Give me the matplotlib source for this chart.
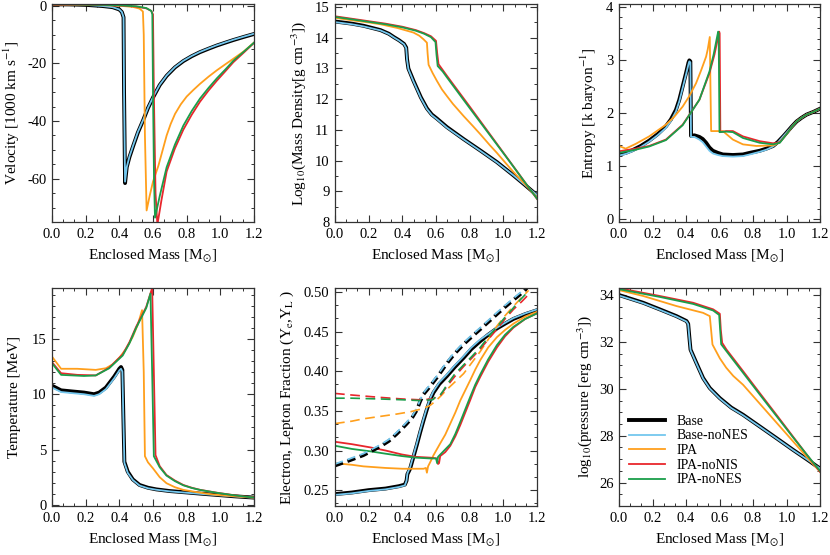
import matplotlib
matplotlib.use("Agg")
import matplotlib.pyplot as plt
from matplotlib.ticker import MultipleLocator, FormatStrFormatter

plt.rcParams['font.family'] = 'serif'
plt.rcParams['font.serif'] = ['Liberation Serif', 'DejaVu Serif']
plt.rcParams['mathtext.fontset'] = 'stix'
plt.rcParams['lines.scale_dashes'] = False

# ---------------- data ----------------
labels = ['Base', 'Base-noNES', 'IPA', 'IPA-noNIS', 'IPA-noNES']
colors = ['black', '#74c7ee', '#ff9f1c', '#e8262c', '#1a9e4a']

# velocity [1000 km/s]
m_vel_base = [0.0, 0.1, 0.2, 0.3, 0.36, 0.40, 0.415, 0.425, 0.428, 0.434, 0.444, 0.46, 0.483, 0.51, 0.543, 0.57,
              0.602, 0.64, 0.681, 0.73, 0.78, 0.83, 0.879, 0.93, 0.979, 1.03, 1.077, 1.14, 1.2]
vel_base = [0.5, 0.45, 0.3, -0.1, -0.5, -1.3, -2.2, -4.0, -30, -61.5, -56, -52.5, -48.5, -44, -39.5, -35.5,
            -31.6, -27.5, -24.3, -21.4, -19.2, -17.5, -16.1, -14.9, -13.8, -12.8, -11.9, -10.8, -9.8]
vel_nones = [0.5, 0.45, 0.3, -0.1, -0.5, -1.3, -2.2, -4.0, -30, -61.0, -56, -52.3, -48.3, -43.8, -39.4, -35.4,
             -31.5, -27.4, -24.2, -21.3, -19.1, -17.4, -16.0, -14.8, -13.7, -12.7, -11.8, -10.7, -9.7]
m_vel_ipa = [0.0, 0.1, 0.2, 0.3, 0.4, 0.48, 0.52, 0.54, 0.545, 0.552, 0.562, 0.58, 0.60, 0.632, 0.66, 0.681, 0.705,
             0.731, 0.765, 0.80, 0.84, 0.879, 0.93, 0.979, 1.03, 1.077, 1.14, 1.2]
vel_ipa = [0.4, 0.35, 0.3, 0.2, 0.0, -0.4, -1.0, -2.0, -10, -45, -71, -66, -61, -55.5, -49.5, -45, -41,
           -37.5, -34.2, -31.5, -29.2, -27.1, -24.6, -22.4, -20.3, -18.4, -15.8, -12.8]
m_vel_nonis = [0.0, 0.1, 0.2, 0.3, 0.4, 0.5, 0.56, 0.59, 0.60, 0.605, 0.615, 0.626, 0.65, 0.681, 0.73, 0.78, 0.83,
               0.879, 0.93, 0.979, 1.03, 1.077, 1.14, 1.2]
vel_nonis = [0.4, 0.35, 0.3, 0.25, 0.1, -0.3, -0.9, -1.8, -3.0, -30, -65, -76, -67.5, -57.5, -49.5, -43, -37.8,
             -33.3, -29.4, -26.0, -22.7, -19.6, -16.2, -12.9]
m_vel_ipanones = [0.0, 0.1, 0.2, 0.3, 0.4, 0.5, 0.56, 0.59, 0.596, 0.60, 0.606, 0.612, 0.64, 0.681, 0.73, 0.78,
                  0.83, 0.879, 0.93, 0.979, 1.03, 1.077, 1.14, 1.2]
vel_ipanones = [0.5, 0.45, 0.35, 0.3, 0.15, -0.2, -0.8, -1.8, -3.0, -30, -60, -73.5, -66, -56, -48.2, -41.6,
                -36.5, -32.2, -28.5, -25.2, -22.1, -19.1, -15.9, -12.8]

# log10 density [g/cm3]
m_rho_base = [0.0, 0.1, 0.17, 0.27, 0.32, 0.35, 0.38, 0.41, 0.423, 0.428, 0.436, 0.466, 0.51, 0.546, 0.575,
              0.605, 0.665, 0.764, 0.863, 0.962, 1.06, 1.13, 1.2]
rho_base = [14.53, 14.46, 14.39, 14.25, 14.13, 14.02, 13.92, 13.8, 13.68, 13.3, 13.0, 12.6, 12.06, 11.7, 11.5,
            11.37, 11.09, 10.7, 10.33, 9.95, 9.52, 9.2, 8.87]
rho_nones = [14.51, 14.44, 14.37, 14.24, 14.12, 14.01, 13.91, 13.79, 13.66, 13.28, 12.98, 12.58, 12.04, 11.68,
             11.48, 11.35, 11.07, 10.69, 10.32, 9.94, 9.52, 9.2, 8.88]
m_rho_ipa = [0.0, 0.1, 0.2, 0.27, 0.37, 0.466, 0.5, 0.526, 0.546, 0.55, 0.556, 0.58, 0.605, 0.635, 0.665, 0.7,
             0.764, 0.82, 0.863, 0.92, 0.962, 1.02, 1.06, 1.13, 1.2]
rho_ipa = [14.65, 14.57, 14.5, 14.44, 14.32, 14.17, 14.07, 13.95, 13.84, 13.5, 13.12, 12.85, 12.6, 12.32, 12.1,
           11.85, 11.45, 11.12, 10.86, 10.5, 10.25, 9.88, 9.63, 9.22, 8.8]
m_rho_nonis = [0.0, 0.1, 0.2, 0.3, 0.4, 0.48, 0.53, 0.57, 0.6, 0.607, 0.615, 0.64, 0.665, 0.7, 0.75, 0.8, 0.86,
               0.92, 0.98, 1.04, 1.1, 1.15, 1.2]
rho_nonis = [14.7, 14.62, 14.54, 14.46, 14.36, 14.25, 14.15, 14.05, 13.9, 13.5, 13.14, 12.95, 12.76, 12.5, 12.13,
             11.76, 11.31, 10.86, 10.41, 9.96, 9.51, 9.13, 8.75]
m_rho_ipanones = [0.0, 0.1, 0.2, 0.3, 0.4, 0.48, 0.53, 0.57, 0.597, 0.603, 0.61, 0.64, 0.665, 0.7, 0.75, 0.8,
                  0.86, 0.92, 0.98, 1.04, 1.1, 1.15, 1.2]
rho_ipanones = [14.68, 14.6, 14.52, 14.44, 14.34, 14.23, 14.13, 14.02, 13.86, 13.45, 13.08, 12.9, 12.71, 12.45,
                12.08, 11.71, 11.27, 10.83, 10.39, 9.95, 9.5, 9.13, 8.76]

# entropy [k/baryon]
m_s_base = [0.0, 0.04, 0.08, 0.13, 0.18, 0.23, 0.28, 0.31, 0.34, 0.36, 0.38, 0.40, 0.415, 0.42, 0.426, 0.43,
            0.45, 0.48, 0.5, 0.52, 0.54, 0.56, 0.59, 0.62, 0.68, 0.74, 0.78, 0.84, 0.88, 0.92, 0.95, 0.98, 1.0,
            1.03, 1.06, 1.09, 1.12, 1.16, 1.2]
s_base = [1.22, 1.25, 1.3, 1.38, 1.48, 1.6, 1.75, 1.88, 2.06, 2.25, 2.5, 2.75, 2.95, 2.99, 2.97, 1.57,
          1.58, 1.55, 1.51, 1.44, 1.35, 1.29, 1.25, 1.22, 1.21, 1.22, 1.25, 1.29, 1.33, 1.38, 1.46, 1.56, 1.63,
          1.74, 1.84, 1.91, 1.97, 2.02, 2.08]
s_nones = [1.2, 1.23, 1.28, 1.36, 1.46, 1.58, 1.72, 1.85, 2.03, 2.22, 2.47, 2.72, 2.92, 2.97, 2.95, 1.55,
           1.55, 1.5, 1.45, 1.37, 1.29, 1.24, 1.21, 1.19, 1.18, 1.19, 1.22, 1.27, 1.31, 1.37, 1.45, 1.56, 1.63,
           1.74, 1.84, 1.91, 1.97, 2.02, 2.08]
m_s_ipa = [0.0, 0.04, 0.1, 0.18, 0.28, 0.33, 0.38, 0.42, 0.46, 0.49, 0.52, 0.53, 0.542, 0.546, 0.55, 0.62, 0.65,
           0.68, 0.74, 0.82, 0.92, 0.96, 1.0, 1.03, 1.06, 1.09, 1.12, 1.16, 1.2]
s_ipa = [1.38, 1.33, 1.42, 1.56, 1.78, 1.93, 2.12, 2.32, 2.56, 2.8, 3.06, 3.2, 3.43, 2.5, 1.66, 1.66, 1.58,
         1.5, 1.41, 1.38, 1.39, 1.45, 1.6, 1.73, 1.84, 1.91, 1.97, 2.02, 2.08]
m_s_nonis = [0.0, 0.1, 0.18, 0.28, 0.38, 0.48, 0.54, 0.57, 0.59, 0.598, 0.601, 0.605, 0.64, 0.68, 0.74, 0.84,
             0.92, 0.96, 1.0, 1.03, 1.06, 1.09, 1.12, 1.16, 1.2]
s_nonis = [1.28, 1.33, 1.38, 1.5, 1.78, 2.25, 2.75, 3.1, 3.4, 3.53, 3.5, 1.64, 1.66, 1.66, 1.56, 1.47,
           1.43, 1.45, 1.6, 1.73, 1.84, 1.91, 1.97, 2.02, 2.08]
m_s_ipanones = [0.0, 0.1, 0.18, 0.28, 0.38, 0.48, 0.54, 0.565, 0.585, 0.592, 0.595, 0.6, 0.64, 0.68, 0.74, 0.84,
                0.92, 0.96, 1.0, 1.03, 1.06, 1.09, 1.12, 1.16, 1.2]
s_ipanones = [1.25, 1.31, 1.37, 1.49, 1.77, 2.25, 2.78, 3.1, 3.42, 3.53, 3.5, 1.64, 1.65, 1.64, 1.53, 1.44,
              1.41, 1.44, 1.6, 1.73, 1.84, 1.91, 1.97, 2.02, 2.08]

# temperature [MeV]
m_t_base = [0.0, 0.054, 0.12, 0.19, 0.25, 0.28, 0.32, 0.37, 0.4, 0.41, 0.418, 0.424, 0.43, 0.45, 0.48, 0.52,
            0.57, 0.62, 0.7, 0.78, 0.88, 0.98, 1.08, 1.2]
t_base = [10.77, 10.35, 10.25, 10.15, 10.0, 10.15, 10.6, 11.6, 12.3, 12.46, 12.2, 8.0, 3.9, 3.0, 2.3, 1.8,
          1.55, 1.4, 1.25, 1.15, 1.02, 0.9, 0.78, 0.66]
t_nones = [10.6, 10.2, 10.1, 10.0, 9.85, 10.0, 10.45, 11.45, 12.15, 12.3, 12.05, 7.8, 3.8, 2.9, 2.25, 1.75,
           1.5, 1.37, 1.22, 1.12, 1.0, 0.88, 0.77, 0.65]
m_t_ipa = [0.0, 0.054, 0.15, 0.26, 0.32, 0.36, 0.4, 0.44, 0.48, 0.51, 0.535, 0.545, 0.552, 0.57, 0.6, 0.64,
           0.68, 0.73, 0.78, 0.86, 0.94, 1.0, 1.1, 1.2]
t_ipa = [13.4, 12.3, 12.3, 12.2, 12.35, 12.7, 13.3, 14.1, 15.2, 16.3, 17.6, 12.0, 4.4, 3.85, 3.3, 2.5,
         1.96, 1.6, 1.36, 1.15, 0.97, 0.88, 0.76, 0.66]
m_t_nonis = [0.0, 0.054, 0.15, 0.26, 0.34, 0.42, 0.46, 0.5, 0.56, 0.595, 0.605, 0.615, 0.64, 0.68, 0.73, 0.78,
             0.83, 0.88, 0.98, 1.08, 1.2]
t_nonis = [12.9, 11.9, 11.75, 11.7, 12.4, 13.6, 14.7, 16.1, 17.9, 19.6, 12.0, 4.5, 3.5, 2.7, 2.2, 1.8,
           1.55, 1.36, 1.1, 0.88, 0.66]
m_t_ipanones = [0.0, 0.054, 0.19, 0.26, 0.34, 0.42, 0.46, 0.5, 0.56, 0.585, 0.595, 0.605, 0.64, 0.68, 0.73, 0.78,
                0.83, 0.88, 0.98, 1.08, 1.2]
t_ipanones = [12.8, 11.75, 11.65, 11.7, 12.35, 13.5, 14.6, 16.0, 17.8, 19.1, 12.0, 4.4, 3.4, 2.65, 2.15, 1.77,
              1.53, 1.35, 1.09, 0.87, 0.66]

# electron fraction Ye (solid) and lepton fraction YL (dashed)
m_ye_base = [0.0, 0.1, 0.2, 0.3, 0.38, 0.415, 0.425, 0.43, 0.446, 0.466, 0.486, 0.506, 0.526, 0.546, 0.565,
             0.585, 0.62, 0.665, 0.71, 0.764, 0.81, 0.863, 0.91, 0.962, 1.01, 1.06, 1.13, 1.2]
ye_base = [0.245, 0.247, 0.25, 0.252, 0.255, 0.257, 0.262, 0.27, 0.277, 0.292, 0.307, 0.323, 0.338, 0.352, 0.364,
           0.373, 0.384, 0.394, 0.405, 0.417, 0.428, 0.438, 0.446, 0.454, 0.46, 0.466, 0.472, 0.477]
ye_nones = [0.244, 0.246, 0.249, 0.251, 0.254, 0.256, 0.262, 0.271, 0.279, 0.294, 0.309, 0.325, 0.34, 0.354, 0.366,
            0.375, 0.386, 0.396, 0.407, 0.419, 0.43, 0.44, 0.447, 0.455, 0.461, 0.467, 0.473, 0.478]
m_ye_ipa = [0.0, 0.1, 0.169, 0.3, 0.4, 0.526, 0.54, 0.546, 0.553, 0.565, 0.585, 0.625, 0.655, 0.685, 0.715, 0.744,
            0.774, 0.804, 0.833, 0.863, 0.91, 0.962, 1.01, 1.06, 1.13, 1.2]
ye_ipa = [0.284, 0.282, 0.28, 0.278, 0.277, 0.277, 0.278, 0.272, 0.28, 0.285, 0.294, 0.309, 0.32, 0.334, 0.348,
          0.363, 0.376, 0.389, 0.402, 0.414, 0.43, 0.443, 0.452, 0.46, 0.469, 0.475]
m_ye_nonis = [0.0, 0.1, 0.208, 0.3, 0.397, 0.48, 0.565, 0.605, 0.612, 0.618, 0.625, 0.655, 0.685, 0.715, 0.744,
              0.774, 0.804, 0.833, 0.863, 0.91, 0.962, 1.01, 1.06, 1.13, 1.2]
ye_nonis = [0.311, 0.308, 0.304, 0.3, 0.295, 0.292, 0.291, 0.29, 0.283, 0.284, 0.293, 0.298, 0.306, 0.318, 0.332,
            0.348, 0.364, 0.38, 0.393, 0.412, 0.43, 0.444, 0.455, 0.466, 0.473]
m_ye_ipanones = [0.0, 0.1, 0.208, 0.3, 0.397, 0.48, 0.565, 0.6, 0.607, 0.612, 0.635, 0.685, 0.715, 0.744, 0.774,
                 0.804, 0.833, 0.863, 0.91, 0.962, 1.01, 1.06, 1.13, 1.2]
ye_ipanones = [0.306, 0.302, 0.299, 0.296, 0.293, 0.291, 0.29, 0.29, 0.284, 0.292, 0.297, 0.308, 0.321, 0.336,
               0.352, 0.368, 0.383, 0.396, 0.415, 0.433, 0.446, 0.456, 0.466, 0.473]

m_yl_base = [0.0, 0.08, 0.168, 0.268, 0.32, 0.367, 0.4, 0.427, 0.46, 0.486, 0.506, 0.526, 0.565, 0.605, 0.665,
             0.71, 0.764, 0.81, 0.863, 0.91, 0.962, 1.01, 1.06, 1.1, 1.14]
yl_base = [0.281, 0.287, 0.294, 0.305, 0.312, 0.321, 0.328, 0.334, 0.342, 0.351, 0.362, 0.371, 0.381, 0.392, 0.41,
           0.422, 0.434, 0.443, 0.453, 0.462, 0.472, 0.481, 0.49, 0.497, 0.505]
yl_nones = [0.283, 0.289, 0.296, 0.307, 0.314, 0.323, 0.33, 0.336, 0.344, 0.353, 0.364, 0.373, 0.383, 0.394, 0.412,
            0.424, 0.436, 0.445, 0.455, 0.464, 0.474, 0.483, 0.492, 0.499, 0.507]
m_yl_ipa = [0.0, 0.1, 0.169, 0.268, 0.367, 0.45, 0.506, 0.546, 0.566, 0.595, 0.625, 0.665, 0.71, 0.764, 0.81,
            0.863, 0.91, 0.962, 1.01, 1.06, 1.1, 1.15]
yl_ipa = [0.334, 0.337, 0.34, 0.343, 0.346, 0.349, 0.352, 0.355, 0.357, 0.362, 0.368, 0.377, 0.386, 0.397, 0.41,
          0.425, 0.44, 0.457, 0.47, 0.482, 0.491, 0.502]
m_yl_nonis = [0.0, 0.1, 0.268, 0.4, 0.5, 0.585, 0.6, 0.625, 0.645, 0.665, 0.71, 0.764, 0.81, 0.863, 0.91, 0.962,
              1.01, 1.06, 1.11, 1.16]
yl_nonis = [0.372, 0.37, 0.367, 0.365, 0.364, 0.365, 0.368, 0.369, 0.375, 0.381, 0.393, 0.406, 0.416, 0.428, 0.44,
            0.453, 0.466, 0.478, 0.488, 0.499]
m_yl_ipanones = [0.0, 0.1, 0.268, 0.4, 0.5, 0.58, 0.6, 0.625, 0.645, 0.665, 0.71, 0.764, 0.81, 0.863, 0.91,
                 0.962, 1.01, 1.06, 1.1, 1.15]
yl_ipanones = [0.366, 0.366, 0.365, 0.364, 0.363, 0.364, 0.368, 0.37, 0.376, 0.383, 0.396, 0.408, 0.418, 0.43,
               0.443, 0.456, 0.468, 0.48, 0.49, 0.501]

# log10 pressure [erg/cm3]
m_p_base = [0.0, 0.144, 0.243, 0.343, 0.403, 0.413, 0.42, 0.427, 0.462, 0.502, 0.542, 0.602, 0.67, 0.741, 0.841,
            0.941, 1.04, 1.12, 1.2]
p_base = [34.0, 33.67, 33.39, 33.1, 32.89, 32.77, 32.2, 31.67, 31.1, 30.46, 30.03, 29.6, 29.2, 28.89, 28.39,
          27.89, 27.39, 27.0, 26.6]
p_nones = [33.98, 33.65, 33.37, 33.08, 32.87, 32.75, 32.18, 31.65, 31.08, 30.44, 30.01, 29.58, 29.18, 28.87,
           28.38, 27.88, 27.38, 27.0, 26.6]
m_p_ipa = [0.0, 0.144, 0.343, 0.502, 0.542, 0.55, 0.558, 0.602, 0.64, 0.682, 0.741, 0.841, 0.941, 1.04, 1.12, 1.2]
p_ipa = [34.21, 33.96, 33.53, 33.24, 33.1, 32.5, 31.89, 31.3, 30.9, 30.55, 30.17, 29.36, 28.55, 27.75, 27.1, 26.46]
m_p_nonis = [0.0, 0.243, 0.443, 0.562, 0.602, 0.608, 0.616, 0.642, 0.741, 0.841, 0.941, 1.04, 1.12, 1.2]
p_nonis = [34.29, 33.96, 33.67, 33.39, 33.2, 32.5, 31.96, 31.67, 30.75, 29.81, 28.88, 27.95, 27.2, 26.46]
m_p_ipanones = [0.0, 0.243, 0.443, 0.562, 0.598, 0.604, 0.61, 0.642, 0.741, 0.841, 0.941, 1.04, 1.12, 1.2]
p_ipanones = [34.25, 33.92, 33.62, 33.34, 33.15, 32.5, 31.9, 31.6, 30.68, 29.75, 28.83, 27.92, 27.2, 26.5]

# ---------------- figure ----------------
W, H = 830, 555
fig = plt.figure(figsize=(W / 100, H / 100), dpi=100)


def make_ax(x0, x1, y0, y1):
    return fig.add_axes([x0 / W, 1 - y1 / H, (x1 - x0) / W, (y1 - y0) / H])


axes = [make_ax(52, 254, 4, 222), make_ax(335, 537, 4, 222), make_ax(619, 820, 4, 222),
        make_ax(52, 254, 288, 506), make_ax(335, 537, 288, 506), make_ax(619, 820, 288, 506)]

widths = [2.8, 1.3, 1.3, 1.3, 1.3]


def draw(ax, curves, ls='-'):
    for i, (m, v) in enumerate(curves):
        if ls == '-':
            ax.plot(m, v, color=colors[i], lw=widths[i], label=labels[i], solid_joinstyle='round')
        else:
            lw = 2.6 if i == 0 else (1.3 if i == 1 else 1.2)
            dash = (6, 3.5) if i < 2 else (7, 4)
            ax.plot(m, v, color=colors[i], lw=lw, linestyle=(0, dash))


draw(axes[0], [(m_vel_base, vel_base), (m_vel_base, vel_nones), (m_vel_ipa, vel_ipa),
               (m_vel_nonis, vel_nonis), (m_vel_ipanones, vel_ipanones)])
draw(axes[1], [(m_rho_base, rho_base), (m_rho_base, rho_nones), (m_rho_ipa, rho_ipa),
               (m_rho_nonis, rho_nonis), (m_rho_ipanones, rho_ipanones)])
draw(axes[2], [(m_s_base, s_base), (m_s_base, s_nones), (m_s_ipa, s_ipa),
               (m_s_nonis, s_nonis), (m_s_ipanones, s_ipanones)])
draw(axes[3], [(m_t_base, t_base), (m_t_base, t_nones), (m_t_ipa, t_ipa),
               (m_t_nonis, t_nonis), (m_t_ipanones, t_ipanones)])
draw(axes[4], [(m_ye_base, ye_base), (m_ye_base, ye_nones), (m_ye_ipa, ye_ipa),
               (m_ye_nonis, ye_nonis), (m_ye_ipanones, ye_ipanones)])
draw(axes[4], [(m_yl_base, yl_base), (m_yl_base, yl_nones), (m_yl_ipa, yl_ipa),
               (m_yl_nonis, yl_nonis), (m_yl_ipanones, yl_ipanones)], ls='--')
draw(axes[5], [(m_p_base, p_base), (m_p_base, p_nones), (m_p_ipa, p_ipa),
               (m_p_nonis, p_nonis), (m_p_ipanones, p_ipanones)])

ylims = [(-75, 0.6), (8, 15.1), (-0.05, 4.05), (-0.1, 19.6), (0.23, 0.505), (25, 34.3)]
ymaj = [20, 1, 1, 5, 0.05, 2]
ymin = [5, 0.5, 0.2, 1, 0.05 / 3, 0.5]
yfmt = ['%d', '%d', '%d', '%d', '%.2f', '%d']
ylabels = [r'Velocity [1000 km s$^{-1}$]',
           r'Log$_{10}$(Mass Density[g cm$^{-3}$])',
           r'Entropy [k baryon$^{-1}$]',
           'Temperature [MeV]',
           r'Electron, Lepton Fraction (Y$_\mathrm{e}$,Y$_\mathrm{L}$ )',
           r'log$_{10}$(pressure [erg cm$^{-3}$])']
ylab_x = [-0.198, -0.183, -0.151, -0.187, -0.236, -0.171]

for k, ax in enumerate(axes):
    ax.set_xlim(0, 1.2)
    ax.set_ylim(*ylims[k])
    ax.xaxis.set_major_locator(MultipleLocator(0.2))
    ax.xaxis.set_minor_locator(MultipleLocator(0.2 / 3))
    ax.xaxis.set_major_formatter(FormatStrFormatter('%.1f'))
    ax.yaxis.set_major_locator(MultipleLocator(ymaj[k]))
    ax.yaxis.set_minor_locator(MultipleLocator(ymin[k]))
    ax.yaxis.set_major_formatter(FormatStrFormatter(yfmt[k]))
    ax.tick_params(which='both', direction='in', top=True, right=True, labelsize=10.5, pad=4, color='#333333')
    ax.tick_params(which='major', length=5, width=0.8)
    ax.tick_params(which='minor', length=2.5, width=0.7)
    for sp in ax.spines.values():
        sp.set_linewidth(0.9)
        sp.set_color('#333333')
    ax.set_xlabel('Enclosed Mass [M$_{⊙}$]', fontsize=11, va='top')
    ax.xaxis.set_label_coords(0.5, -0.115)
    ax.set_ylabel(ylabels[k], fontsize=11, va='center')
    ax.yaxis.set_label_coords(ylab_x[k], 0.5)

leg = axes[5].legend(loc='lower left', bbox_to_anchor=(0.05, 0.09), frameon=False, fontsize=10,
                     handlelength=2.6, handletextpad=0.8, labelspacing=0.12, borderpad=0, borderaxespad=0)

fig.savefig('out.png', dpi=100)
